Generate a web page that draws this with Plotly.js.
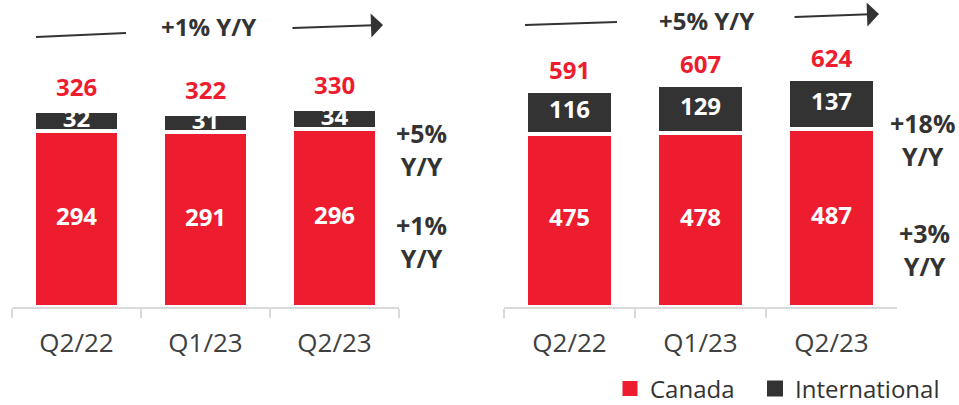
<!DOCTYPE html>
<html>
<head>
<meta charset="utf-8">
<script src="https://cdn.plot.ly/plotly-3.0.1.min.js"></script>
<style>html,body{margin:0;padding:0;background:#fff;}#chart{width:959px;height:405px;}</style>
</head>
<body>
<div id="chart"></div>
<script>
// ---- data ----
const categories = ['Q2/22', 'Q1/23', 'Q2/23'];
const leftCanada = [294, 291, 296];
const leftIntl = [32, 31, 34];
const leftTotal = [326, 322, 330];
const rightCanada = [475, 478, 487];
const rightIntl = [116, 129, 137];
const rightTotal = [591, 607, 624];
const headlines = ['+1% Y/Y', '+5% Y/Y'];
const leftGrowth = ['+5%<br>Y/Y', '+1%<br>Y/Y'];   // International, Canada
const rightGrowth = ['+18%<br>Y/Y', '+3%<br>Y/Y'];
const seriesNames = ['Canada', 'International'];

// ---- style ----
const RED = '#ED1C2E';
const DARK = '#333333';
const TXT = '#333333';
const FONT = 'Open Sans, sans-serif';
const W = 959, H = 405;
const px = x => x / W;
const py = y => 1 - y / H;

function barTrace(name, xs, ys, color, xa, ya) {
  return {
    type: 'bar', name: name, x: xs, y: ys, xaxis: xa, yaxis: ya,
    marker: {color: color, line: {color: '#ffffff', width: 4}},
    showlegend: false, hoverinfo: 'skip'
  };
}
function segLabels(xs, bases, vals, xa, ya) {
  return {
    type: 'scatter', mode: 'text', x: xs, y: vals.map((v, i) => bases[i] + v / 2),
    text: vals.map(String), textposition: 'middle center', xaxis: xa, yaxis: ya,
    textfont: {family: FONT, size: 24, color: '#ffffff', weight: 'bold'},
    showlegend: false, hoverinfo: 'skip', cliponaxis: false
  };
}
const zeros = categories.map(() => 0);

const data = [
  barTrace(seriesNames[0], categories, leftCanada, RED, 'x', 'y'),
  barTrace(seriesNames[1], categories, leftIntl, DARK, 'x', 'y'),
  barTrace(seriesNames[0], categories, rightCanada, RED, 'x2', 'y2'),
  barTrace(seriesNames[1], categories, rightIntl, DARK, 'x2', 'y2'),
  segLabels(categories, zeros, leftCanada, 'x', 'y'),
  segLabels(categories, leftCanada, leftIntl, 'x', 'y'),
  segLabels(categories, zeros, rightCanada, 'x2', 'y2'),
  segLabels(categories, rightCanada, rightIntl, 'x2', 'y2'),
  // legend entries
  {type: 'scatter', mode: 'markers', name: seriesNames[0], x: [null], y: [null], xaxis: 'x', yaxis: 'y',
   marker: {symbol: 'square', size: 15, color: RED}, showlegend: true, legend: 'legend', hoverinfo: 'skip'},
  {type: 'scatter', mode: 'markers', name: seriesNames[1], x: [null], y: [null], xaxis: 'x', yaxis: 'y',
   marker: {symbol: 'square', size: 16, color: DARK}, showlegend: true, legend: 'legend2', hoverinfo: 'skip'}
];

const annotations = [];
categories.forEach((c, i) => {
  annotations.push({x: c, y: leftTotal[i], xref: 'x', yref: 'y', text: String(leftTotal[i]),
    showarrow: false, yanchor: 'bottom', xanchor: 'center', yshift: 6,
    font: {family: FONT, size: 24, color: RED, weight: 'bold'}});
  annotations.push({x: c, y: rightTotal[i], xref: 'x2', yref: 'y2', text: String(rightTotal[i]),
    showarrow: false, yanchor: 'bottom', xanchor: 'center', yshift: 3,
    font: {family: FONT, size: 24, color: RED, weight: 'bold'}});
});

const boldFont = {family: FONT, size: 25, color: TXT, weight: 'bold'};
function note(x, y, text, size) {
  return {xref: 'paper', yref: 'paper', x: px(x), y: py(y), text: text, showarrow: false,
    xanchor: 'center', yanchor: 'middle', align: 'center',
    font: Object.assign({}, boldFont, size ? {size: size} : {})};
}
annotations.push(note(208, 27, headlines[0], 24));
annotations.push(note(706, 20, headlines[1], 24));
annotations.push(note(421, 149, leftGrowth[0]));
annotations.push(note(421, 241, leftGrowth[1]));
annotations.push(note(922, 139, rightGrowth[0]));
annotations.push(note(924, 249, rightGrowth[1]));
// arrows
annotations.push({xref: 'paper', yref: 'paper', x: px(383), y: py(25), ax: 291 - 383, ay: 28 - 25, text: '',
  showarrow: true, arrowhead: 1, arrowsize: 2.0, arrowwidth: 2, arrowcolor: DARK});
annotations.push({xref: 'paper', yref: 'paper', x: px(879), y: py(14), ax: 793 - 879, ay: 17 - 14, text: '',
  showarrow: true, arrowhead: 1, arrowsize: 2.0, arrowwidth: 2, arrowcolor: DARK});

const shapes = [
  {type: 'line', xref: 'paper', yref: 'paper', x0: px(36), y0: py(37), x1: px(126), y1: py(33), line: {color: DARK, width: 2}},
  {type: 'line', xref: 'paper', yref: 'paper', x0: px(525), y0: py(25), x1: px(617), y1: py(22), line: {color: DARK, width: 2}}
];

const xaxisBase = {
  type: 'category', showline: true, linecolor: '#d9d9d9', linewidth: 2,
  ticks: 'outside', tickson: 'boundaries', ticklen: 9, tickwidth: 2, tickcolor: '#d9d9d9',
  tickfont: {family: FONT, size: 26, color: '#404040'}, ticklabelstandoff: 12,
  showgrid: false, zeroline: false, fixedrange: true
};
const yaxisBase = {showgrid: false, zeroline: false, showline: false, showticklabels: false, ticks: '', fixedrange: true};

const legendBase = {orientation: 'h', xanchor: 'left', yanchor: 'middle', y: py(389),
  font: {family: FONT, size: 24, color: TXT}, bgcolor: 'rgba(0,0,0,0)', itemclick: false};

const layout = {
  width: W, height: H,
  margin: {l: 0, r: 0, t: 0, b: 0, pad: 0, autoexpand: false},
  paper_bgcolor: '#ffffff', plot_bgcolor: '#ffffff',
  barmode: 'stack', bargap: 0.34,
  xaxis: Object.assign({}, xaxisBase, {domain: [px(12), px(399)], anchor: 'y'}),
  yaxis: Object.assign({}, yaxisBase, {domain: [98 / H, 1], range: [0, 307 / 0.6], anchor: 'x'}),
  xaxis2: Object.assign({}, xaxisBase, {domain: [px(504), px(897)], anchor: 'y2'}),
  yaxis2: Object.assign({}, yaxisBase, {domain: [98 / H, 1], range: [0, 307 / 0.365], anchor: 'x2'}),
  showlegend: true,
  legend: Object.assign({}, legendBase, {x: px(610)}),
  legend2: Object.assign({}, legendBase, {x: px(755)}),
  annotations: annotations,
  shapes: shapes
};

Plotly.newPlot('chart', data, layout, {displayModeBar: false, staticPlot: true});
</script>
</body>
</html>
